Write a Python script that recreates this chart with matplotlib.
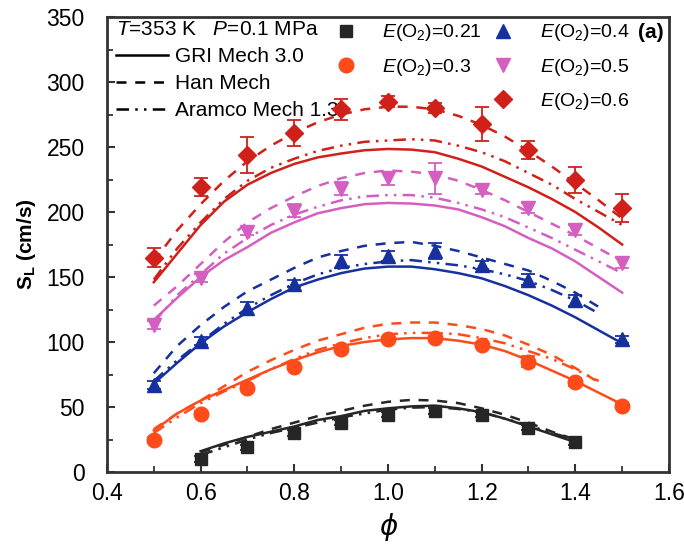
import matplotlib
matplotlib.use("Agg")
import matplotlib.pyplot as plt
from matplotlib.lines import Line2D

plt.rcParams['font.family'] = ['Liberation Sans', 'DejaVu Sans']
plt.rcParams['mathtext.fontset'] = 'custom'
plt.rcParams['mathtext.rm'] = 'Liberation Sans'
plt.rcParams['mathtext.it'] = 'Liberation Sans:italic'
plt.rcParams['mathtext.bf'] = 'Liberation Sans:bold'

# measured points (phi, S_L, error)
phi_021 = [0.6, 0.7, 0.8, 0.9, 1.0, 1.1, 1.2, 1.3, 1.4]
sl_021 = [10, 19, 30, 38, 44, 47, 44, 34, 23]
err_021 = [2, 2, 2, 2, 2, 2, 2, 2, 2]

phi_all = [0.5, 0.6, 0.7, 0.8, 0.9, 1.0, 1.1, 1.2, 1.3, 1.4, 1.5]
sl_03 = [25, 45, 65, 81, 95, 102, 103, 98, 85, 69, 51]
err_03 = [2, 2, 2, 2, 2, 2, 2, 2, 4, 3, 2]
sl_04 = [67, 101, 126, 145, 162, 166, 170, 159, 148, 132, 102]
err_04 = [3, 3, 5, 3, 5, 4, 6, 3, 4, 4, 3]
sl_05 = [113, 149, 185, 201, 218, 226, 226, 217, 203, 186, 161]
err_05 = [3, 3, 3, 5, 5, 5, 12, 3, 4, 4, 4]
sl_06 = [165, 219, 244, 261, 279, 285, 280, 268, 248, 225, 203]
err_06 = [7, 7, 14, 10, 8, 4, 4, 13, 7, 10, 11]

# model curves
phi_c = [0.5, 0.55, 0.6, 0.65, 0.7, 0.75, 0.8, 0.85, 0.9, 0.95, 1.0,
         1.05, 1.1, 1.15, 1.2, 1.25, 1.3, 1.35, 1.4, 1.45, 1.5]
phi_c021 = [0.6, 0.65, 0.7, 0.75, 0.8, 0.85, 0.9, 0.95, 1.0, 1.05, 1.1,
            1.15, 1.2, 1.25, 1.3, 1.35, 1.4]

gri_021 = [16, 22, 27, 31, 35, 40, 43, 47, 49, 50.5, 51, 49, 46, 41, 35, 29, 23]
han_021 = [15, 21, 27, 33, 38, 43, 47, 51, 54, 55.5, 55, 53, 49, 44, 38, 31, 25]
ara_021 = [13, 19, 25, 30, 34, 38, 42, 45, 48, 49.5, 50, 48.5, 46, 41, 36, 30, 25]

gri_03 = [32, 45, 55, 63, 71, 79, 86, 92, 97, 100, 102, 103, 103, 101, 98, 93, 86, 78, 70, 61, 52]
han_03 = [33, 45, 55, 66, 77, 86, 94, 101, 106, 111, 114, 115, 115, 113, 110, 105, 98, 90, 80, 69]
ara_03 = [30, 42, 53, 62, 70, 79, 87, 94, 99, 103, 106, 107, 107, 106, 103, 99, 93, 87, 79, 70]

gri_04 = [68, 84, 99, 112, 123, 133, 142, 148, 153, 156.5, 158, 158, 156, 153, 149, 143, 136, 128, 119, 109, 99]
han_04 = [76, 97, 113, 127, 139, 148, 157, 165, 170, 174, 176, 177, 174, 170, 165, 160, 155, 147, 138, 127]
ara_04 = [70, 86, 100, 114, 126, 136, 145, 152, 157, 160, 162, 163, 161, 159, 156, 152, 147, 140, 132, 122]

gri_05 = [117, 134, 150, 163, 173, 184, 192, 199, 203, 206, 207, 206.5, 205, 202, 196, 189, 180, 172, 162, 150, 138]
han_05 = [128, 143, 160, 177, 192, 203, 212, 220, 226, 230, 232, 231, 229, 224, 217, 209, 200, 191, 182, 172, 162]
ara_05 = [115, 136, 152, 168, 180, 190, 198, 204, 209, 212, 213, 213, 211, 207, 202, 196, 188, 180, 171, 162, 153]

gri_06 = [146, 168, 190, 208, 221, 230, 237, 242, 245, 247.5, 248.5, 248, 246, 241, 235, 227, 219, 210, 200, 188, 175]
han_06 = [162, 186, 206, 224, 239, 251, 261, 269, 275, 279, 281, 281, 279, 274, 267, 258, 247, 235, 222, 209, 195]
ara_06 = [148, 172, 192, 210, 224, 234, 241, 247, 251, 254, 255, 256, 255, 251, 246, 239, 230, 221, 210, 200, 190]

labels_E = ['0.21', '0.3', '0.4', '0.5', '0.6']
colors = ['#262626', '#ff4a1a', '#1730a0', '#d45fc0', '#d0201a']
markers = ['s', 'o', '^', 'v', 'D']
msizes = [8.5, 10.5, 10, 10, 9]

points = [(phi_021, sl_021, err_021), (phi_all, sl_03, err_03), (phi_all, sl_04, err_04),
          (phi_all, sl_05, err_05), (phi_all, sl_06, err_06)]
curves = [(phi_c021, gri_021, han_021, ara_021), (phi_c, gri_03, han_03, ara_03),
          (phi_c, gri_04, han_04, ara_04), (phi_c, gri_05, han_05, ara_05),
          (phi_c, gri_06, han_06, ara_06)]

ls_gri = '-'
ls_han = (0, (4, 3.5))
ls_ara = (0, (5, 2.5, 1, 2.5, 1, 2.5))

fig = plt.figure(figsize=(6.84, 5.47), dpi=100)
ax = fig.add_axes([0.1564, 0.1371, 0.8216, 0.8318])

marker_handles = []
for (px, py, pe), (cx, g, h, a), c, m, s, lab in zip(points, curves, colors, markers, msizes, labels_E):
    ax.plot(cx, g, color=c, ls=ls_gri, lw=1.8)
    ax.plot(cx[:len(h)], h, color=c, ls=ls_han, lw=1.8)
    ax.plot(cx[:len(a)], a, color=c, ls=ls_ara, lw=1.8)
    ax.errorbar(px, py, yerr=pe, fmt=m, color=c, ms=s, capsize=5, elinewidth=1.3,
                capthick=1.3, zorder=5)
    marker_handles.append(Line2D([], [], ls='none', marker=m, color=c, ms=s,
                                 label=r'$E$(O$_2$)=' + lab))

ax.set_xlim(0.4, 1.6)
ax.set_ylim(0, 350)
ax.set_xticks([0.4, 0.6, 0.8, 1.0, 1.2, 1.4, 1.6])
ax.set_xticks([0.5, 0.7, 0.9, 1.1, 1.3, 1.5], minor=True)
ax.set_yticks(range(0, 351, 50))
ax.set_yticks(range(25, 350, 50), minor=True)
ax.tick_params(which='both', direction='in', labelsize=16.5, colors='#333333',
               labelcolor='black')
ax.tick_params(which='major', length=6, width=1.5)
ax.tick_params(which='minor', length=4, width=1.3)
ax.tick_params(axis='y', pad=16)
ax.tick_params(axis='x', pad=7)
for sp in ax.spines.values():
    sp.set_linewidth(2)
    sp.set_color('#333333')

ax.set_ylabel(r'$\mathbf{S_L}$ (cm/s)', fontsize=15, fontweight='bold', labelpad=6)
ax.set_xlabel('ϕ', fontsize=20, style='italic', family='DejaVu Sans', labelpad=6)

line_handles = [Line2D([], [], color='black', ls=ls_gri, lw=1.8),
                Line2D([], [], color='black', ls=ls_han, lw=1.8),
                Line2D([], [], color='black', ls=ls_ara, lw=1.8)]
leg1 = ax.legend(line_handles, ['GRI Mech 3.0', 'Han Mech', 'Aramco Mech 1.3'],
                 title=r'$T$=353 K   $P$=0.1 MPa', title_fontsize=15, fontsize=15,
                 loc='upper left', bbox_to_anchor=(-0.01, 1.025), frameon=False,
                 alignment='left', handlelength=2.5, handletextpad=0.35,
                 labelspacing=0.38, borderpad=0.2)
ax.add_artist(leg1)

blank = Line2D([], [], ls='none')
h2 = [marker_handles[0], marker_handles[1], blank,
      marker_handles[2], marker_handles[3], marker_handles[4]]
l2 = [hh.get_label() for hh in marker_handles[:2]] + [''] + \
     [hh.get_label() for hh in marker_handles[2:]]
ax.legend(h2, l2, ncol=2, fontsize=14, loc='upper left',
          bbox_to_anchor=(0.383, 1.018), frameon=False, handlelength=1.0,
          handletextpad=1.4, columnspacing=0.55, labelspacing=0.68, borderpad=0.2)

ax.text(0.968, 0.967, '(a)', transform=ax.transAxes, ha='center', va='center',
        fontsize=15, fontweight='bold')

fig.savefig('out.png', dpi=100)
